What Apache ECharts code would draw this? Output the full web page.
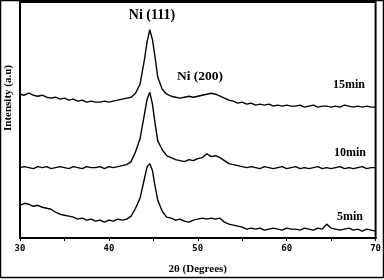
<!DOCTYPE html>
<html><head><meta charset="utf-8">
<script src="https://cdn.jsdelivr.net/npm/echarts@6/dist/echarts.min.js"></script>
<style>html,body{margin:0;padding:0;background:#fff}#c{width:384px;height:280px}</style>
</head><body><div id="c"></div>
<script>
const twoTheta = [30,30.5,31,31.5,32,32.5,33,33.5,34,34.5,35,35.5,36,36.5,37,37.5,38,38.5,39,39.5,40,40.5,41,41.5,42,42.5,43,43.5,44,44.3,44.6,44.9,45.2,45.5,46,46.5,47,47.5,48,48.5,49,49.5,50,50.5,51,51.5,52,52.5,53,53.5,54,54.5,55,55.5,56,56.5,57,57.5,58,58.5,59,59.5,60,60.5,61,61.5,62,62.5,63,63.5,64,64.5,65,65.5,66,66.5,67,67.5,68,68.5,69,69.5,70];
const int15 = [145,144,146,144,143,144,142,141,142,140,141,139,140,138,139,137,138,137,137,138,137,138,139,140,141,142,146,155,180,198,210,200,182,162,150,145,143,142,141,142,143,142,143,144,145,146,145,143,141,139,138,136,137,135,136,134,135,134,135,133,134,133,134,133,133,134,132,133,134,132,133,133,132,133,132,134,133,132,133,132,133,132,132];
const int10 = [71,72,71,70,72,71,72,70,71,72,71,70,72,71,70,72,71,71,72,70,72,71,72,73,74,77,87,100,125,140,147,135,115,98,89,83,81,79,78,77,79,78,80,81,85,82,83,81,78,75,74,73,72,71,72,71,70,72,71,70,71,72,70,71,72,70,71,70,71,72,70,71,70,71,72,70,71,70,71,72,70,71,71];
const int5 = [33,35,34,32,33,31,30,29,26,24,23,22,21,19,20,18,19,17,18,16,18,17,19,18,19,22,30,40,60,72,75,68,52,38,27,21,20,18,19,17,16,18,19,20,19,20,19,20,16,14,13,12,11,9,10,9,10,8,9,10,9,8,10,9,9,8,10,9,8,10,9,14,10,9,8,9,10,8,9,7,9,8,7];
const sampleLabels = ['15min','10min','5min'];
const xTicks = [30,40,50,60,70];

function pairs(ys){ return twoTheta.map((x,i)=>[x,ys[i]]); }
const serif = '"Liberation Serif","DejaVu Serif",serif';
const chart = echarts.init(document.getElementById('c'), null, {renderer:'canvas'});
const lineStyle = {color:'#000', width:1.4};
chart.setOption({
  animation:false,
  backgroundColor:'#fff',
  grid:{left:20,right:7,top:2,bottom:40,show:true,borderColor:'#000',borderWidth:2,backgroundColor:'transparent'},
  xAxis:{type:'value',min:30,max:70,interval:5,
    name:'2\u03b8 (Degrees)',nameLocation:'middle',nameGap:26,
    nameTextStyle:{fontFamily:serif,fontWeight:'bold',fontSize:11,color:'#000'},
    axisLine:{show:true,lineStyle:{color:'#000',width:2}},
    axisTick:{show:true,inside:false,length:3,lineStyle:{color:'#000',width:1}},
    axisLabel:{margin:6,fontFamily:'"DejaVu Sans Mono",monospace',fontWeight:'bold',fontSize:9,color:'#000',
      formatter:v=>xTicks.includes(v)?String(v):''},
    splitLine:{show:false}},
  yAxis:{type:'value',min:0,max:238,show:true,
    axisLine:{show:true,lineStyle:{color:'#000',width:2}},
    axisTick:{show:false},axisLabel:{show:false},splitLine:{show:false}},
  graphic:[
    {type:'rect',shape:{x:0.5,y:0.5,width:383,height:277},style:{fill:'none',stroke:'#000',lineWidth:1.5},silent:true},
    {type:'text',x:8,y:98,rotation:Math.PI/2,style:{text:'Intensity (a.u)',font:'bold 11px '+serif,fill:'#000',align:'center',verticalAlign:'middle'}},
    {type:'text',x:152,y:15,style:{text:'Ni (111)',font:'bold 14px '+serif,fill:'#000',align:'center',verticalAlign:'middle'}},
    {type:'text',x:200,y:77,style:{text:'Ni (200)',font:'bold 13.5px '+serif,fill:'#000',align:'center',verticalAlign:'middle'}},
    {type:'text',x:349,y:85,style:{text:sampleLabels[0],font:'bold 12px '+serif,fill:'#000',align:'center',verticalAlign:'middle'}},
    {type:'text',x:350,y:153,style:{text:sampleLabels[1],font:'bold 12px '+serif,fill:'#000',align:'center',verticalAlign:'middle'}},
    {type:'text',x:350,y:217,style:{text:sampleLabels[2],font:'bold 12px '+serif,fill:'#000',align:'center',verticalAlign:'middle'}}
  ],
  series:[
    {name:sampleLabels[0],type:'line',data:pairs(int15),showSymbol:false,lineStyle},
    {name:sampleLabels[1],type:'line',data:pairs(int10),showSymbol:false,lineStyle},
    {name:sampleLabels[2],type:'line',data:pairs(int5),showSymbol:false,lineStyle}
  ]
});
</script></body></html>
